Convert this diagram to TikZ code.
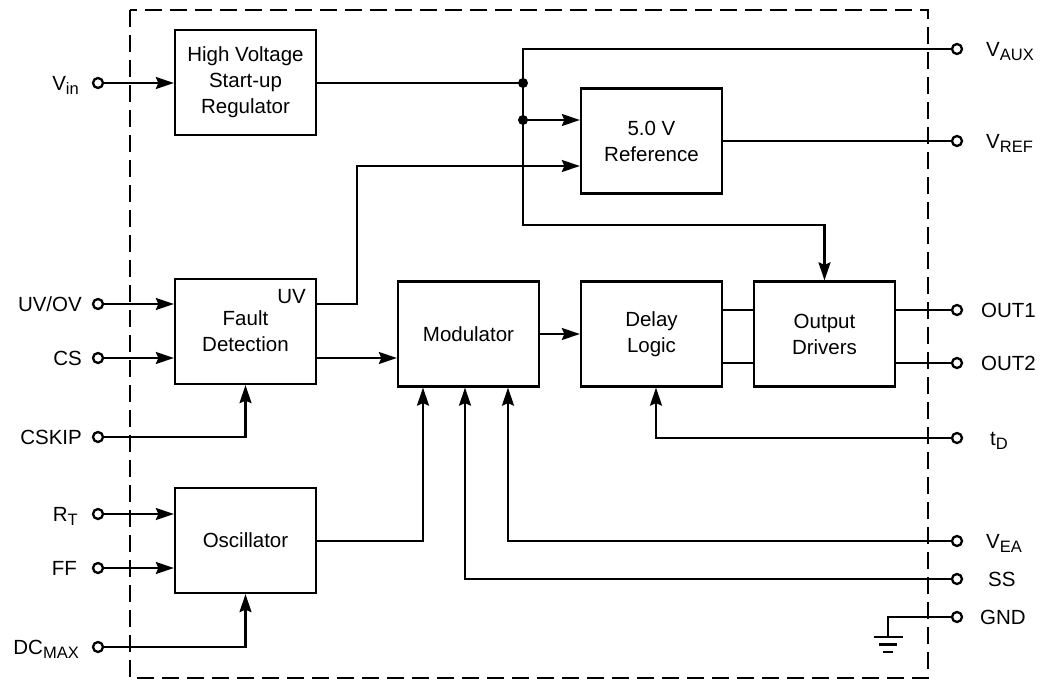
\documentclass[tikz,border=0pt]{standalone}
\usepackage{fontspec}
\setmainfont{Liberation Sans}
\usetikzlibrary{arrows.meta}
\newcommand{\pinsub}[1]{\raisebox{-4pt}{\fontsize{16.5}{16.5}\selectfont #1}}
\begin{document}
\begin{tikzpicture}[x=1pt,y=-1pt,
  wire/.style={line width=2.3pt},
  arr/.style={wire,-{Stealth[length=18pt,width=12pt,inset=2.5pt]}},
  blk/.style={draw,line width=2.3pt,minimum width=141pt,minimum height=105pt,inner sep=0pt,align=center,font=\fontsize{20.5}{26}\selectfont},
  pinc/.style={circle,draw,fill=white,line width=2.3pt,minimum size=10pt,inner sep=0pt},
  lab/.style={inner sep=0pt,font=\fontsize{20.5}{24}\selectfont},
  dot/.style={circle,fill,minimum size=10pt,inner sep=0pt}]
\useasboundingbox (0,0) rectangle (1045,683);
\draw[line width=2.3pt,dash pattern=on 17pt off 8pt] (130,10) rectangle (928,678);

% blocks
\node[blk] (hv) at (245.5,82.5) {High Voltage\\Start-up\\Regulator};
\node[blk] (ref) at (651.5,141) {5.0 V\\Reference};
\node[blk] (fault) at (245.5,331.5) {Fault\\Detection};
\node[lab,anchor=east] (uvl) at (306,297) {UV};
\node[blk] (mod) at (468.5,334) {Modulator};
\node[blk] (delay) at (651.5,334) {Delay\\Logic};
\node[blk] (out) at (824.5,334) {Output\\Drivers};
\node[blk] (osc) at (245.5,540.5) {Oscillator};

% pins
\node[pinc] (vin) at (98,83) {};
\node[pinc] (uvov) at (98,304) {};
\node[pinc] (cs) at (98,358) {};
\node[pinc] (cskip) at (98,437) {};
\node[pinc] (rt) at (98,514) {};
\node[pinc] (ff) at (98,568) {};
\node[pinc] (dcmax) at (98,647) {};
\node[pinc] (vaux) at (957,49) {};
\node[pinc] (vref) at (957,141) {};
\node[pinc] (out1) at (957,310) {};
\node[pinc] (out2) at (957,363) {};
\node[pinc] (td) at (957,438) {};
\node[pinc] (vea) at (957,541) {};
\node[pinc] (ss) at (957,579) {};
\node[pinc] (gnd) at (957,617) {};

% labels
\node[lab,anchor=base east] (lvin) at (79,90) {V\pinsub{in}};
\node[lab,anchor=base east] (luvov) at (82,311) {UV/OV};
\node[lab,anchor=base east] (lcs) at (82,365) {CS};
\node[lab,anchor=base east] (lcskip) at (82,444) {CSKIP};
\node[lab,anchor=base east] (lrt) at (78,521) {R\pinsub{T}};
\node[lab,anchor=base east] (lff) at (77,575) {FF};
\node[lab,anchor=base east] (ldc) at (79,654) {DC\pinsub{MAX}};
\node[lab,anchor=base west] (lvaux) at (986,56) {V\pinsub{AUX}};
\node[lab,anchor=base west] (lvref) at (986,148) {V\pinsub{REF}};
\node[lab,anchor=base west] (lout1) at (981,317) {OUT1};
\node[lab,anchor=base west] (lout2) at (981,370) {OUT2};
\node[lab,anchor=base west] (ltd) at (990,445) {t\pinsub{D}};
\node[lab,anchor=base west] (lvea) at (986,548) {V\pinsub{EA}};
\node[lab,anchor=base west] (lss) at (988,586) {SS};
\node[lab,anchor=base west] (lgnd) at (980,624) {GND};

% junctions
\node[dot] (j1) at (523,83) {};
\node[dot] (j2) at (523,120) {};
\coordinate (btop) at (523,49);
\coordinate (bbend) at (523,225);
\coordinate (uvk) at (357,166);
\coordinate (tdk) at (656,438);
\coordinate (m1) at (423,541);
\coordinate (m2) at (465,579);
\coordinate (m3) at (508,541);
\coordinate (gk) at (888,637);

% wires
\draw[arr] (vin) -- (hv.west |- vin);
\draw[wire] (hv.east |- j1) -- (j1.center);
\draw[arr] (vaux) -- (btop) -- (bbend) -| (out.north);
\draw[arr] (j2.center) -- (ref.west |- j2);
\draw[wire] (ref.east |- vref) -- (vref);
\draw[arr] (fault.east |- uvov) -- (uvk |- uvov) -- (uvk) -- (ref.west |- uvk);
\draw[arr] (uvov) -- (fault.west |- uvov);
\draw[arr] (cs) -- (fault.west |- cs);
\draw[arr] (cskip) -| (fault.south);
\draw[arr] (fault.east |- cs) -- (mod.west |- cs);
\draw[arr] (mod.east) -- (delay.west);
\draw[wire] (delay.east |- out1) -- (out.west |- out1);
\draw[wire] (delay.east |- out2) -- (out.west |- out2);
\draw[wire] (out.east |- out1) -- (out1);
\draw[wire] (out.east |- out2) -- (out2);
\draw[arr] (td) -- (tdk) -- (tdk |- delay.south);
\draw[arr] (rt) -- (osc.west |- rt);
\draw[arr] (ff) -- (osc.west |- ff);
\draw[arr] (dcmax) -| (osc.south);
\draw[arr] (osc.east |- m1) -- (m1) -- (m1 |- mod.south);
\draw[arr] (vea) -- (m3) -- (m3 |- mod.south);
\draw[arr] (ss) -- (m2) -- (m2 |- mod.south);
% ground
\draw[wire] (gnd) -- (gk |- gnd) -- (gk);
\draw[wire] ([xshift=-14.5pt]gk) -- ([xshift=14.5pt]gk);
\draw[wire] ([xshift=-9pt,yshift=-7.5pt]gk) -- ([xshift=9pt,yshift=-7.5pt]gk);
\draw[wire] ([xshift=-5pt,yshift=-15pt]gk) -- ([xshift=5pt,yshift=-15pt]gk);
\end{tikzpicture}
\end{document}
